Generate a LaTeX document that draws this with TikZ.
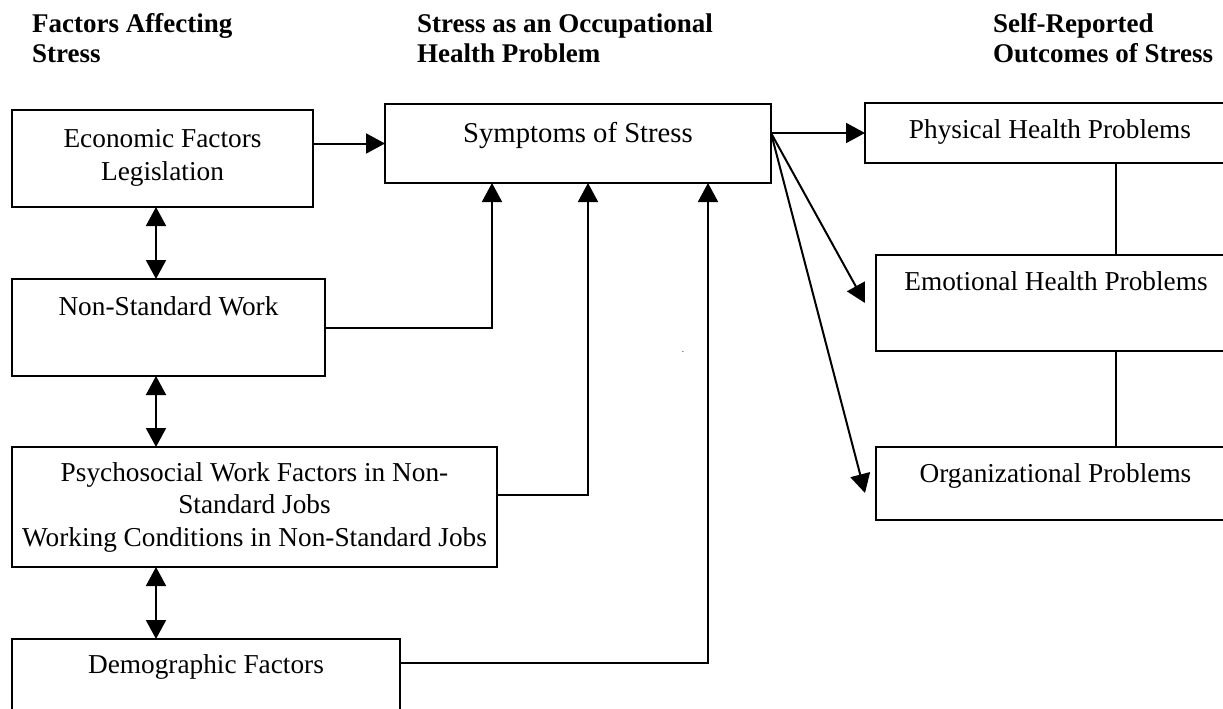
\documentclass[tikz,border=0pt]{standalone}
\usepackage{fontspec}
\setmainfont{Liberation Serif}
\usetikzlibrary{arrows.meta}
\begin{document}
\begin{tikzpicture}[x=1pt,y=-1pt,
  box/.style={draw, line width=2pt, inner sep=0pt, outer sep=0pt, anchor=north west},
  txt/.style={font=\fontsize{27.3}{32.5}\selectfont, align=center, inner sep=0pt, anchor=base},
  head/.style={font=\fontsize{27}{29.5}\selectfont\bfseries, align=left, inner sep=0pt, anchor=base west},
  arr/.style={line width=2pt, -{Triangle[length=19pt,width=20pt]}},
  darr/.style={line width=2pt, {Triangle[length=19pt,width=20pt]}-{Triangle[length=19pt,width=20pt]}},
  link/.style={line width=2pt}]
\useasboundingbox (0,0) rectangle (1223,709);
\clip (0,0) rectangle (1223,709);
\fill[white] (0,0) rectangle (1223,709);
% headings (anchor = baseline of last line)
\node[head] (h1) at (32,62.5) {Factors Affecting\\Stress};
\node[head] (h2) at (417,62.5) {Stress as an Occupational\\Health Problem};
\node[head] (h3) at (993,62.5) {Self-Reported\\Outcomes of Stress};
% boxes
\node[box, minimum width=301pt, minimum height=97pt] (econ) at (12,110) {};
\node[txt] (econT) at (162.5,180) {Economic Factors\\Legislation};
\node[box, minimum width=313pt, minimum height=97pt] (nsw) at (12,279) {};
\node[txt] (nswT) at (168.5,315) {Non-Standard Work};
\node[box, minimum width=485pt, minimum height=120pt] (psy) at (12,447) {};
\node[txt] (psyT) at (254.5,546) {Psychosocial Work Factors in Non-\\Standard Jobs\\Working Conditions in Non-Standard Jobs};
\node[box, minimum width=388pt, minimum height=100pt] (demo) at (12,639) {};
\node[txt] (demoT) at (206,673) {Demographic Factors};
\node[box, minimum width=386pt, minimum height=79pt] (symp) at (385,104) {};
\node[txt, font=\fontsize{28.7}{32}\selectfont] (sympT) at (578,142) {Symptoms of Stress};
\node[box, minimum width=371pt, minimum height=60pt] (phys) at (865,103) {};
\node[txt] (physT) at (1050,138) {Physical Health Problems};
\node[box, minimum width=360pt, minimum height=96pt] (emo) at (876,255) {};
\node[txt] (emoT) at (1056,290) {Emotional Health Problems};
\node[box, minimum width=360pt, minimum height=73pt] (org) at (876,447) {};
\node[txt] (orgT) at (1055.5,482) {Organizational Problems};
\node[font=\fontsize{9}{9}\selectfont, inner sep=0pt, anchor=base] (dot) at (683,352) {.};
% columns
\coordinate (c0) at (156,0);
\coordinate (c1) at (492,0);
\coordinate (c2) at (588,0);
\coordinate (c3) at (708,0);
\coordinate (cr) at (1116,0);
% connectors
\draw[arr] (econ.east |- symp.west) -- (symp.west);
\draw[arr] (symp.east |- phys.west) -- (phys.west);
\coordinate (fan) at (symp.east |- phys.west);
\draw[arr] (fan) -- ([xshift=-11pt]emo.west);
\draw[arr] (fan) -- ([xshift=-11pt,yshift=-9.5pt]org.west);
\draw[arr] (nsw.east) -| (c1 |- symp.south);
\draw[arr] ([yshift=12pt]psy.east) -| (c2 |- symp.south);
\draw[arr] ([yshift=-24pt]demo.north east) -| (c3 |- symp.south);
\draw[darr] (c0 |- econ.south) -- (c0 |- nsw.north);
\draw[darr] (c0 |- nsw.south) -- (c0 |- psy.north);
\draw[darr] (c0 |- psy.south) -- (c0 |- demo.north);
\draw[link] (cr |- phys.south) -- (cr |- emo.north);
\draw[link] (cr |- emo.south) -- (cr |- org.north);
\end{tikzpicture}
\end{document}
